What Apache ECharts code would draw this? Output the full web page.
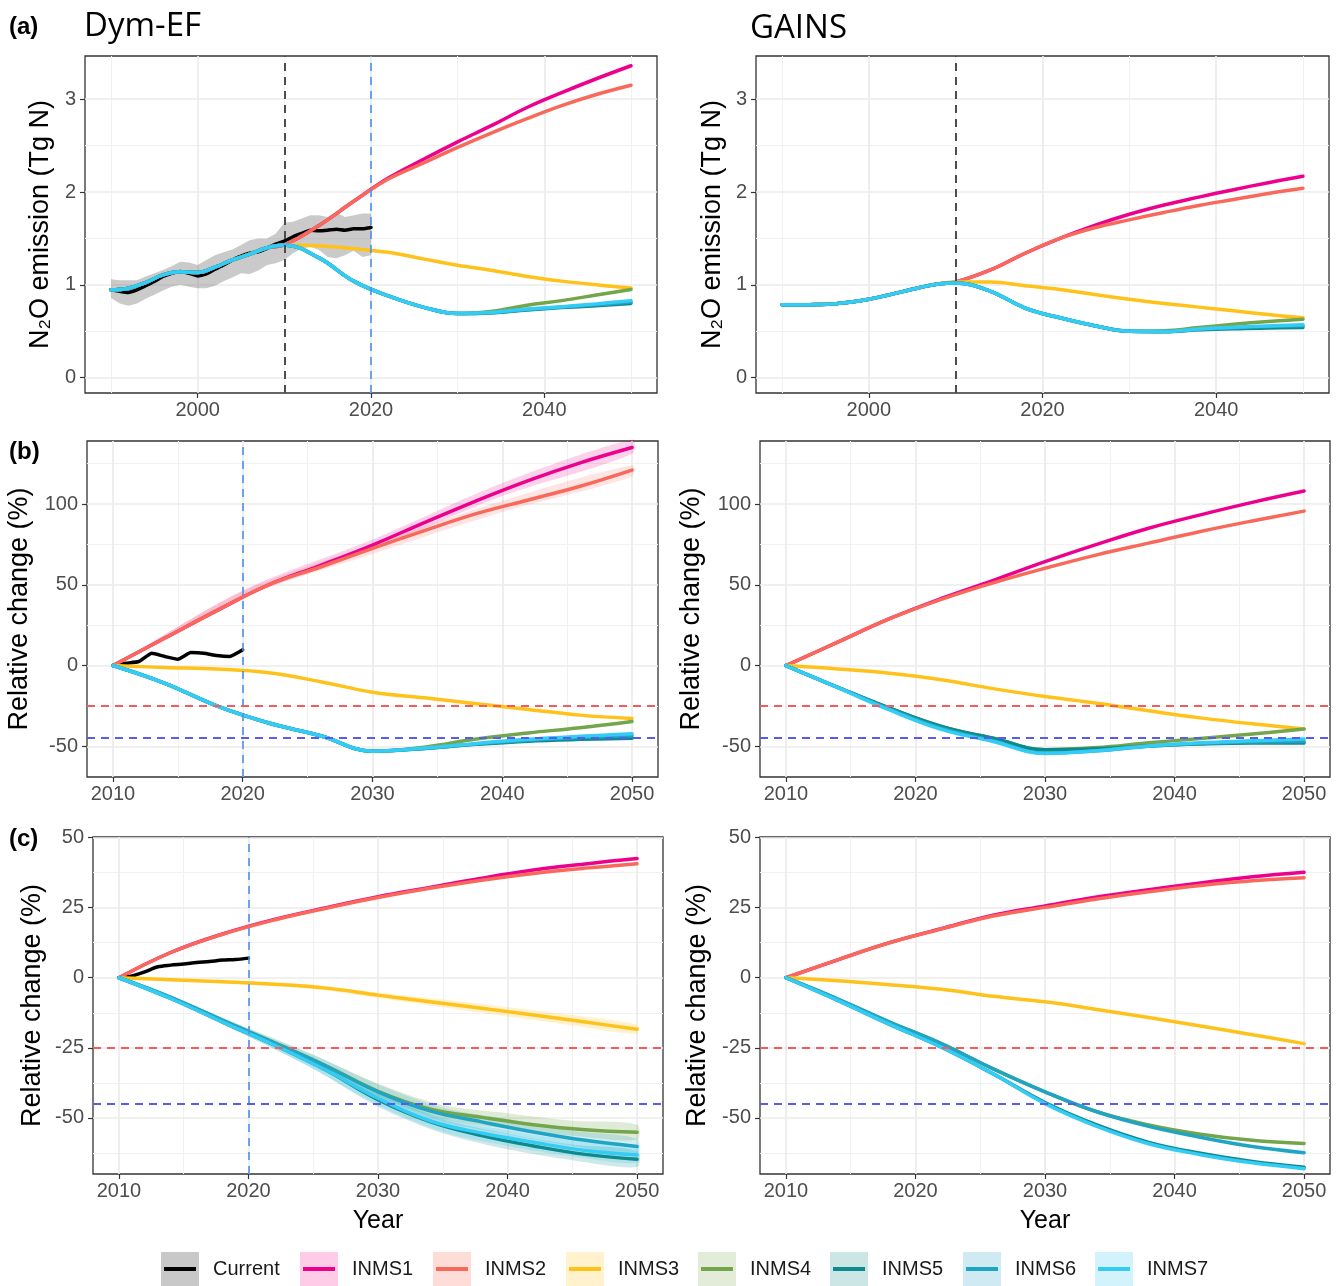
<!DOCTYPE html>
<html>
<head>
<meta charset="utf-8">
<script src="https://cdn.jsdelivr.net/npm/echarts@6/dist/echarts.min.js"></script>
<style>
html, body { margin: 0; padding: 0; background: #fff; }
#chart { width: 1336px; height: 1286px; }
</style>
</head>
<body>
<div id="chart"></div>
<script>
// ======================
// DATA
// ======================

const scenarios = ['INMS1', 'INMS2', 'INMS3', 'INMS4', 'INMS5', 'INMS6', 'INMS7'];

// tick labels
const ticksYearA = [2000, 2020, 2040];
const ticksYearBC = [2010, 2020, 2030, 2040, 2050];
const ticksEmission = [0, 1, 2, 3];
const ticksRelB = [-50, 0, 50, 100];
const ticksRelC = [-50, -25, 0, 25, 50];

// reference lines
const baseYear = 2010;
const currentYear = 2020;
const targetRed = -25;
const targetBlue = -45;

// (a) N2O emission, Tg N -- shared history 1990-2008
const yearsHist = [1990, 1992, 1994, 1996, 1998, 2000, 2002, 2004, 2006, 2008];
const histDym = [0.946, 0.964, 1.025, 1.107, 1.14, 1.132, 1.19, 1.268, 1.33, 1.40];
const histGains = [0.785, 0.785, 0.787, 0.795, 0.815, 0.845, 0.885, 0.93, 0.975, 1.01];

const yearsA = [2010, 2014, 2018, 2022, 2026, 2030, 2034, 2038, 2042, 2046, 2050];
const dymA1 = [1.43, 1.64, 1.90, 2.15, 2.35, 2.54, 2.72, 2.91, 3.07, 3.22, 3.36];
const dymA2 = [1.43, 1.64, 1.90, 2.14, 2.31, 2.48, 2.64, 2.79, 2.93, 3.05, 3.15];
const dymA3 = [1.43, 1.42, 1.39, 1.35, 1.28, 1.21, 1.155, 1.09, 1.04, 1.0, 0.965];
const dymA4 = [1.43, 1.29, 1.04, 0.88, 0.76, 0.69, 0.715, 0.78, 0.83, 0.89, 0.95];
const dymA5 = [1.43, 1.29, 1.04, 0.88, 0.76, 0.69, 0.70, 0.73, 0.755, 0.775, 0.80];
const dymA6 = [1.43, 1.29, 1.04, 0.88, 0.76, 0.69, 0.70, 0.735, 0.76, 0.785, 0.815];
const dymA7 = [1.43, 1.29, 1.04, 0.88, 0.76, 0.69, 0.705, 0.74, 0.765, 0.795, 0.83];

const gainsA1 = [1.03, 1.16, 1.34, 1.50, 1.64, 1.76, 1.86, 1.945, 2.025, 2.10, 2.17];
const gainsA2 = [1.03, 1.16, 1.34, 1.50, 1.615, 1.70, 1.78, 1.855, 1.92, 1.985, 2.04];
const gainsA3 = [1.03, 1.03, 0.99, 0.95, 0.895, 0.845, 0.80, 0.76, 0.72, 0.68, 0.645];
const gainsA4 = [1.02, 0.93, 0.75, 0.645, 0.56, 0.50, 0.505, 0.54, 0.575, 0.605, 0.63];
const gainsA5 = [1.02, 0.93, 0.75, 0.645, 0.56, 0.50, 0.495, 0.515, 0.528, 0.535, 0.54];
const gainsA6 = [1.02, 0.93, 0.75, 0.645, 0.56, 0.50, 0.497, 0.52, 0.538, 0.552, 0.56];
const gainsA7 = [1.02, 0.93, 0.75, 0.645, 0.56, 0.50, 0.498, 0.525, 0.542, 0.558, 0.57];

// current (observed) emission with its grey band, Dym-EF
const yearsCur = [1990, 1991, 1992, 1993, 1994, 1995, 1996, 1997, 1998, 1999, 2000, 2001, 2002, 2003, 2004, 2005,
  2006, 2007, 2008, 2009, 2010, 2011, 2012, 2013, 2014, 2015, 2016, 2017, 2018, 2019, 2020];
const curA = [0.946, 0.93, 0.918, 0.946, 0.99, 1.036, 1.09, 1.125, 1.143, 1.125, 1.096, 1.118, 1.168, 1.214, 1.268, 1.31,
  1.34, 1.357, 1.393, 1.44, 1.471, 1.518, 1.554, 1.589, 1.582, 1.589, 1.60, 1.589, 1.604, 1.604, 1.618];
const curALo = [0.857, 0.80, 0.775, 0.80, 0.85, 0.893, 0.94, 0.98, 1.0, 0.98, 0.964, 0.964, 0.99, 1.04, 1.08, 1.125,
  1.118, 1.154, 1.214, 1.232, 1.268, 1.34, 1.39, 1.41, 1.375, 1.30, 1.286, 1.32, 1.368, 1.30, 1.32];
const curAHi = [1.06, 1.05, 1.05, 1.05, 1.09, 1.125, 1.16, 1.2, 1.25, 1.24, 1.214, 1.268, 1.32, 1.35, 1.38, 1.43,
  1.48, 1.5, 1.5, 1.55, 1.668, 1.679, 1.714, 1.75, 1.75, 1.732, 1.78, 1.73, 1.75, 1.768, 1.768];

// (b) relative change (%)
const yearsB = [2010, 2014, 2018, 2022, 2026, 2030, 2034, 2038, 2042, 2046, 2050];
const dymB1 = [0, 17, 34, 50, 62, 74.6, 88.5, 102, 114.5, 125.5, 135];
const dymB2 = [0, 17, 34, 50, 61, 72.5, 83.5, 94, 102.5, 111, 121];
const dymB3 = [0, -1.2, -2.2, -4.5, -10, -16.5, -20, -23.6, -27.2, -30.7, -32.8];
const dymB4 = [0, -11, -25, -35.6, -43.5, -53, -50.5, -45.5, -41.7, -38.5, -34.6];
const dymB5 = [0, -11, -25, -35.6, -43.5, -53, -51.3, -48.8, -46.8, -45.7, -45];
const dymB6 = [0, -11, -25, -35.6, -43.5, -53, -51.3, -48.5, -46.2, -44.6, -43.5];
const dymB7 = [0, -11, -25, -35.6, -43.5, -53, -51.1, -48.2, -45.7, -43.8, -42.2];

const gainsB1 = [0, 14.5, 29, 41.5, 52.7, 64.3, 75, 85, 93.3, 101, 108];
const gainsB2 = [0, 14.5, 29, 41, 51.2, 60.2, 68.5, 75.8, 83, 89.5, 95.6];
const gainsB3 = [0, -2.1, -4.8, -8.8, -14.3, -19.2, -23.3, -28, -32.4, -36.1, -39.3];
const gainsB4 = [0, -13.5, -26.4, -37.7, -45, -52.1, -50.8, -47.8, -45.2, -42.4, -39.3];
const gainsB5 = [0, -13.5, -26.4, -37.7, -45, -52.1, -51.5, -49.8, -48.6, -48, -48];
const gainsB6 = [0, -13.5, -27, -38.8, -46.5, -54.2, -52.8, -50, -48.2, -47.3, -47];
const gainsB7 = [0, -13.7, -27.5, -39.5, -47, -54.4, -52.8, -49.8, -47.8, -46.6, -45.5];

const yearsCurBC = [2010, 2011, 2012, 2013, 2014, 2015, 2016, 2017, 2018, 2019, 2020];
const curB = [0, 1.4, 2.5, 7.6, 5.6, 3.9, 8, 7.6, 6.2, 5.6, 9.7];

const yearsRibB = [2010, 2020, 2030, 2040, 2050];
const ribB1Lo = [0, 42, 71.5, 105, 131];
const ribB1Hi = [0, 46.5, 78, 113, 140];
const ribB2Lo = [0, 42, 69, 95, 117];
const ribB2Hi = [0, 46, 75, 102, 124];

// (c) relative change (%)
const yearsC = [2010, 2014, 2018, 2022, 2026, 2030, 2034, 2038, 2042, 2046, 2050];
const dymC1 = [0, 9, 15.6, 20.8, 25, 28.9, 32.2, 35.5, 38.4, 40.6, 42.5];
const dymC2 = [0, 9, 15.5, 20.6, 24.8, 28.6, 31.9, 34.8, 37.2, 39.1, 40.7];
const dymC3 = [0, -0.7, -1.4, -2.3, -3.7, -6.2, -8.6, -10.9, -13.3, -15.8, -18.4];
const dymC4 = [0, -7, -15.2, -23.2, -31.5, -40.5, -46.8, -49.8, -52.4, -54.2, -55.1];
const dymC5 = [0, -7.4, -15.8, -24, -33, -43.5, -51.3, -56.3, -60, -63, -64.7];
const dymC6 = [0, -7, -15.2, -23.2, -31.5, -40.7, -47.5, -51.4, -55, -58, -60.2];
const dymC7 = [0, -7.4, -15.8, -24, -33, -43, -51, -55.4, -58.7, -61.6, -63.2];

const gainsC1 = [0, 6.4, 12.5, 17.5, 22.3, 25.6, 28.8, 31.4, 33.8, 36, 37.6];
const gainsC2 = [0, 6.4, 12.5, 17.4, 22, 25.1, 28.1, 30.7, 32.9, 34.6, 35.7];
const gainsC3 = [0, -1.1, -2.5, -4.1, -6.6, -8.6, -11.3, -14.2, -17.2, -20.3, -23.5];
const gainsC4 = [0, -7.6, -15.8, -23.5, -32.5, -40.7, -47.8, -52.5, -55.8, -58, -59.1];
const gainsC5 = [0, -8.1, -16.6, -24.8, -34.3, -44.5, -52.5, -58.7, -62.6, -65.5, -67.6];
const gainsC6 = [0, -7.6, -15.8, -23.5, -32.5, -40.7, -47.8, -53, -56.9, -60.2, -62.4];
const gainsC7 = [0, -8.1, -16.6, -24.8, -34.3, -44.9, -53, -59.2, -63.1, -66, -68.1];

const curC = [0, 0.6, 2.1, 3.9, 4.5, 4.9, 5.4, 5.8, 6.3, 6.5, 7.0];

const yearsRibC = [2010, 2015, 2020, 2025, 2030, 2035, 2040, 2045, 2050];
const ribC3Lo = [0, -1.2, -2.4, -4.0, -7.2, -10.5, -13.8, -17.0, -20.0];
const ribC3Hi = [0, -0.5, -1.3, -2.5, -5.3, -7.8, -10.5, -13.3, -16.8];
const ribC4Lo = [0, -9.6, -20.2, -31.0, -42.3, -50.4, -53.8, -56.4, -57.8];
const ribC4Hi = [0, -8.6, -18.2, -27.6, -37.8, -45.4, -48.3, -51.0, -52.4];
const ribC6Lo = [0, -9.6, -20.4, -31.2, -42.6, -51.4, -55.8, -60.0, -62.9];
const ribC6Hi = [0, -8.6, -18.0, -27.4, -38.0, -46.4, -50.4, -54.6, -57.5];
const ribC7Lo = [0, -10.0, -21.0, -32.5, -45.5, -55.0, -60.0, -63.7, -66.0];
const ribC7Hi = [0, -9.0, -18.6, -28.5, -40.5, -50.0, -54.4, -58.1, -60.4];
const ribC5Lo = [0, -10.0, -21.0, -32.5, -46.0, -55.5, -61.2, -65.1, -67.5];
const ribC5Hi = [0, -9.0, -18.6, -28.5, -41.0, -50.5, -55.6, -59.5, -61.9];

// ======================
// STYLE
// ======================

const FONT = '"Liberation Sans", Arial, sans-serif';
const lineColors = ['#EC008C', '#F8695C', '#FFC21A', '#73A54B', '#0D8A8C', '#1FA5C4', '#34CCF5'];
const keyFills = ['#FFCCE8', '#FEDCD8', '#FFF2CC', '#E2ECD8', '#CCE5E5', '#CFEAF2', '#D3F3FC'];
const ribFill = ['rgba(236,0,140,0.18)', 'rgba(248,105,92,0.18)', 'rgba(255,194,26,0.22)',
  'rgba(115,165,75,0.22)', 'rgba(13,138,140,0.2)', 'rgba(31,165,196,0.2)', 'rgba(52,204,245,0.22)'];

const pts = (xs, ys) => xs.map((x, i) => [x, ys[i]]);
const rows3 = (xs, lo, hi) => xs.map((x, i) => [x, lo[i], hi[i]]);

// ======================
// GRIDS & AXES
// ======================

const gridRects = [
  { left: 85, top: 56, width: 572, height: 337 },
  { left: 756, top: 56, width: 573, height: 337 },
  { left: 87, top: 441, width: 571, height: 336 },
  { left: 760, top: 441, width: 570, height: 336 },
  { left: 93, top: 837, width: 570, height: 337 },
  { left: 760, top: 837, width: 570, height: 337 },
];

const grids = gridRects.map(r => Object.assign({
  show: true,
  borderColor: '#333333',
  borderWidth: 1.3,
  backgroundColor: '#ffffff',
  outerBoundsMode: 'none',
}, r));

function xAxisFor(i, min, max, ticks, withName) {
  return {
    type: 'value', gridIndex: i, min, max,
    splitLine: { show: false },
    axisLine: { show: false, onZero: false },
    axisTick: { show: true, length: 5, customValues: ticks, lineStyle: { color: '#333', width: 1.2 } },
    axisLabel: {
      customValues: ticks, color: '#4D4D4D', fontSize: 20, fontFamily: FONT, margin: 7,
      formatter: v => String(v),
    },
    name: withName ? 'Year' : '',
    nameLocation: 'middle', nameGap: 35, nameMoveOverlap: false,
    nameTextStyle: { fontSize: 25, color: '#000', fontFamily: FONT },
  };
}

function yAxisFor(i, min, max, ticks, name, gap) {
  return {
    type: 'value', gridIndex: i, min, max,
    splitLine: { show: false },
    axisLine: { show: false, onZero: false },
    axisTick: { show: true, length: 5, customValues: ticks, lineStyle: { color: '#333', width: 1.2 } },
    axisLabel: {
      customValues: ticks, color: '#4D4D4D', fontSize: 20, fontFamily: FONT, margin: 9,
      formatter: v => String(v),
    },
    name, nameLocation: 'middle', nameGap: gap, nameMoveOverlap: false,
    nameTextStyle: { fontSize: 27, color: '#000', fontFamily: FONT },
  };
}

const nameEmis = 'N\u2082O emission (Tg N)';
const nameRel = 'Relative change (%)';

const xAxes = [
  xAxisFor(0, 1987, 2053, ticksYearA, false),
  xAxisFor(1, 1987, 2053, ticksYearA, false),
  xAxisFor(2, 2008, 2052, ticksYearBC, false),
  xAxisFor(3, 2008, 2052, ticksYearBC, false),
  xAxisFor(4, 2008, 2052, ticksYearBC, true),
  xAxisFor(5, 2008, 2052, ticksYearBC, true),
];
const yAxes = [
  yAxisFor(0, -0.165, 3.465, ticksEmission, nameEmis, 31),
  yAxisFor(1, -0.165, 3.465, ticksEmission, nameEmis, 30),
  yAxisFor(2, -69, 139, ticksRelB, nameRel, 54),
  yAxisFor(3, -69, 139, ticksRelB, nameRel, 55),
  yAxisFor(4, -70, 50.2, ticksRelC, nameRel, 47),
  yAxisFor(5, -70, 50.2, ticksRelC, nameRel, 49),
];

// ======================
// SERIES BUILDERS
// ======================

function gridLines(i, xMaj, xMin, yMaj, yMin) {
  const minor = { color: '#F1F1F1', width: 1, type: 'solid' };
  const major = { color: '#EBEBEB', width: 1.7, type: 'solid' };
  const data = [].concat(
    xMin.map(v => ({ xAxis: v, lineStyle: minor })),
    yMin.map(v => ({ yAxis: v, lineStyle: minor })),
    xMaj.map(v => ({ xAxis: v, lineStyle: major })),
    yMaj.map(v => ({ yAxis: v, lineStyle: major }))
  );
  return {
    type: 'line', xAxisIndex: i, yAxisIndex: i, data: [], silent: true,
    markLine: { silent: true, z: 1, symbol: ['none', 'none'], label: { show: false }, animation: false, data },
  };
}

function refLines(i, items) {
  return {
    type: 'line', xAxisIndex: i, yAxisIndex: i, data: [], silent: true,
    markLine: { silent: true, z: 6, symbol: ['none', 'none'], label: { show: false }, animation: false, data: items },
  };
}

const vBase = { xAxis: baseYear, lineStyle: { color: '#4D4D4D', width: 2, type: [8, 6] } };
const vCur = { xAxis: currentYear, lineStyle: { color: '#4A90EE', width: 1.6, type: [8, 6] } };
const hRed = { yAxis: targetRed, lineStyle: { color: '#F25C5C', width: 2, type: [8, 6] } };
const hBlue = { yAxis: targetBlue, lineStyle: { color: '#5A5AF0', width: 2, type: [8, 6] } };

function ribbon(i, rows, fill, smooth) {
  return {
    type: 'custom', xAxisIndex: i, yAxisIndex: i, silent: true, z: 2,
    data: rows,
    encode: { x: 0, y: [1, 2] },
    renderItem: (params, api) => {
      if (params.dataIndexInside !== 0) return null;
      const n = params.dataInsideLength;
      const lower = [], upper = [];
      for (let k = 0; k < n; k++) {
        const x = api.value(0, k);
        lower.push(api.coord([x, api.value(1, k)]));
        upper.push(api.coord([x, api.value(2, k)]));
      }
      return {
        type: 'polygon',
        shape: { points: lower.concat(upper.reverse()), smooth: smooth || 0 },
        style: { fill },
      };
    },
  };
}

function line(i, name, data, color, smooth, z) {
  return {
    type: 'line', name, xAxisIndex: i, yAxisIndex: i, data,
    symbol: 'none', showSymbol: false, smooth, silent: true, z: z || 3,
    lineStyle: { color, width: 3.5, cap: 'round', join: 'round' },
  };
}

// ======================
// PANELS
// ======================

const series = [];

// grid lines
series.push(gridLines(0, [2000, 2020, 2040], [1990, 2010, 2030, 2050], [0, 1, 2, 3], [0.5, 1.5, 2.5]));
series.push(gridLines(1, [2000, 2020, 2040], [1990, 2010, 2030, 2050], [0, 1, 2, 3], [0.5, 1.5, 2.5]));
[2, 3].forEach(i => series.push(gridLines(i, ticksYearBC, [2015, 2025, 2035, 2045], ticksRelB, [-25, 25, 75, 125])));
[4, 5].forEach(i => series.push(gridLines(i, ticksYearBC, [2015, 2025, 2035, 2045], ticksRelC, [-62.5, -37.5, -12.5, 12.5, 37.5])));

// (a) Dym-EF
series.push(ribbon(0, rows3(yearsCur, curALo, curAHi), 'rgba(128,128,128,0.42)', 0));
series.push(line(0, 'Current', pts(yearsCur, curA), '#000000', 0.2));
[dymA1, dymA2, dymA3, dymA4, dymA5, dymA6, dymA7].forEach((v, k) =>
  series.push(line(0, scenarios[k], pts(yearsHist, histDym).concat(pts(yearsA, v)), lineColors[k], 0.4)));

// (a) GAINS
[gainsA1, gainsA2, gainsA3, gainsA4, gainsA5, gainsA6, gainsA7].forEach((v, k) =>
  series.push(line(1, scenarios[k], pts(yearsHist, histGains).concat(pts(yearsA, v)), lineColors[k], 0.4)));

// (b) Dym-EF
series.push(ribbon(2, rows3(yearsRibB, ribB1Lo, ribB1Hi), ribFill[0], 0.3));
series.push(ribbon(2, rows3(yearsRibB, ribB2Lo, ribB2Hi), ribFill[1], 0.3));
series.push(line(2, 'Current', pts(yearsCurBC, curB), '#000000', 0.15));
[dymB1, dymB2, dymB3, dymB4, dymB5, dymB6, dymB7].forEach((v, k) =>
  series.push(line(2, scenarios[k], pts(yearsB, v), lineColors[k], 0.4)));

// (b) GAINS
[gainsB1, gainsB2, gainsB3, gainsB4, gainsB5, gainsB6, gainsB7].forEach((v, k) =>
  series.push(line(3, scenarios[k], pts(yearsB, v), lineColors[k], 0.4)));

// (c) Dym-EF
series.push(ribbon(4, rows3(yearsRibC, ribC3Lo, ribC3Hi), ribFill[2], 0.3));
series.push(ribbon(4, rows3(yearsRibC, ribC4Lo, ribC4Hi), ribFill[3], 0.3));
series.push(ribbon(4, rows3(yearsRibC, ribC5Lo, ribC5Hi), ribFill[4], 0.3));
series.push(ribbon(4, rows3(yearsRibC, ribC6Lo, ribC6Hi), ribFill[5], 0.3));
series.push(ribbon(4, rows3(yearsRibC, ribC7Lo, ribC7Hi), ribFill[6], 0.3));
series.push(line(4, 'Current', pts(yearsCurBC, curC), '#000000', 0.3));
[dymC1, dymC2, dymC3, dymC4, dymC5, dymC6, dymC7].forEach((v, k) =>
  series.push(line(4, scenarios[k], pts(yearsC, v), lineColors[k], 0.4)));

// (c) GAINS
[gainsC1, gainsC2, gainsC3, gainsC4, gainsC5, gainsC6, gainsC7].forEach((v, k) =>
  series.push(line(5, scenarios[k], pts(yearsC, v), lineColors[k], 0.4)));

// reference lines on top
series.push(refLines(0, [vBase, vCur]));
series.push(refLines(1, [vBase]));
series.push(refLines(2, [vCur, hRed, hBlue]));
series.push(refLines(3, [hRed, hBlue]));
series.push(refLines(4, [vCur, hRed, hBlue]));
series.push(refLines(5, [hRed, hBlue]));

// ======================
// TITLES & LEGEND (graphic)
// ======================

const graphics = [
  { type: 'text', x: 9, y: 27, style: { text: '(a)', font: 'bold 24px ' + FONT, fill: '#000', textVerticalAlign: 'middle' } },
  { type: 'text', x: 84, y: 27, style: { text: 'Dym-EF', font: '33px "Open Sans", sans-serif', fill: '#000', textVerticalAlign: 'middle' } },
  { type: 'text', x: 750, y: 29, style: { text: 'GAINS', font: '33px "Open Sans", sans-serif', fill: '#000', textVerticalAlign: 'middle' } },
  { type: 'text', x: 9, y: 452, style: { text: '(b)', font: 'bold 24px ' + FONT, fill: '#000', textVerticalAlign: 'middle' } },
  { type: 'text', x: 9, y: 839, style: { text: '(c)', font: 'bold 24px ' + FONT, fill: '#000', textVerticalAlign: 'middle' } },
];

const legendNames = ['Current'].concat(scenarios);
const legendLine = ['#000000'].concat(lineColors);
const legendFill = ['#C8C8C8'].concat(keyFills);
const legendX = [161, 300, 433, 566, 698, 830, 963, 1095];
legendNames.forEach((nm, k) => {
  const x = legendX[k];
  graphics.push({ type: 'rect', shape: { x, y: 1252, width: 38, height: 34 }, style: { fill: legendFill[k] } });
  graphics.push({ type: 'line', shape: { x1: x + 3, y1: 1269, x2: x + 35, y2: 1269 }, style: { stroke: legendLine[k], lineWidth: 4 } });
  graphics.push({ type: 'text', x: x + 52, y: 1269, style: { text: nm, font: '20px ' + FONT, fill: '#1A1A1A', textVerticalAlign: 'middle' } });
});

// ======================
// CHART
// ======================

const chart = echarts.init(document.getElementById('chart'), null, { renderer: 'canvas' });
chart.setOption({
  animation: false,
  backgroundColor: '#ffffff',
  grid: grids,
  xAxis: xAxes,
  yAxis: yAxes,
  series,
  graphic: graphics,
});
</script>
</body>
</html>
